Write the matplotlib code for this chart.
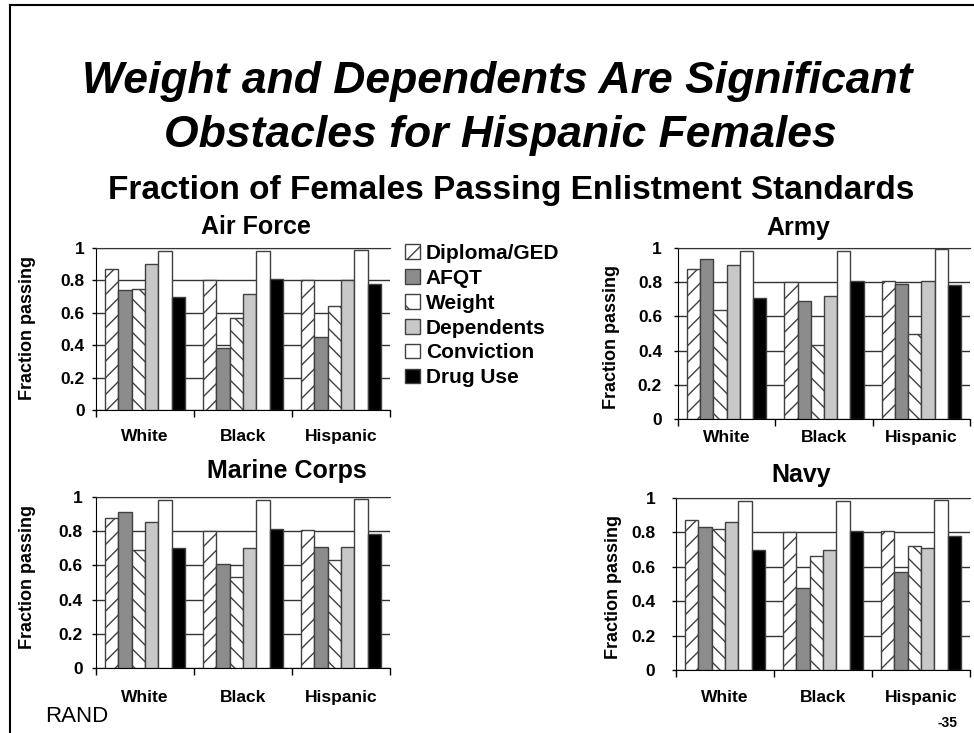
import numpy as np
import matplotlib.pyplot as plt
from matplotlib.patches import Patch
from matplotlib.lines import Line2D

plt.rcParams['font.family'] = ['Liberation Sans', 'DejaVu Sans']
plt.rcParams['hatch.linewidth'] = 1.0

groups = ['White', 'Black', 'Hispanic']
standards = ['Diploma/GED', 'AFQT', 'Weight', 'Dependents', 'Conviction', 'Drug Use']

# values per group, in the order of `standards`
af_white = [0.87, 0.74, 0.745, 0.90, 0.98, 0.70]
af_black = [0.80, 0.38, 0.565, 0.715, 0.98, 0.81]
af_hisp = [0.80, 0.45, 0.645, 0.80, 0.99, 0.78]

army_white = [0.875, 0.935, 0.635, 0.90, 0.985, 0.705]
army_black = [0.80, 0.69, 0.43, 0.72, 0.985, 0.805]
army_hisp = [0.805, 0.79, 0.495, 0.805, 0.995, 0.785]

mc_white = [0.88, 0.91, 0.69, 0.855, 0.985, 0.70]
mc_black = [0.80, 0.61, 0.535, 0.70, 0.985, 0.81]
mc_hisp = [0.805, 0.71, 0.63, 0.71, 0.99, 0.785]

navy_white = [0.875, 0.83, 0.82, 0.86, 0.985, 0.70]
navy_black = [0.80, 0.475, 0.66, 0.70, 0.985, 0.81]
navy_hisp = [0.81, 0.57, 0.72, 0.71, 0.99, 0.78]

fills = ['white', '#8c8c8c', 'white', '#c8c8c8', 'white', 'black']
hatches = ['//', '', '\\\\', '', '', '']
edge = '#404040'

W, H = 974, 733
fig = plt.figure(figsize=(W / 100, H / 100), dpi=100)


def rect(l, t, r, b):
    return [l / W, 1 - b / H, (r - l) / W, (b - t) / H]


# title, data, axes box (px), title pos (px), ylabel pos (px), ytick pad, xlabel pad
panels = [
    ('Air Force', (af_white, af_black, af_hisp), (96, 248, 390, 410), (256, 227), (28, 328), 5, 14),
    ('Army', (army_white, army_black, army_hisp), (678, 248, 970, 419), (798, 228), (612, 337), 8.5, 8),
    ('Marine Corps', (mc_white, mc_black, mc_hisp), (96, 497, 390, 668), (287, 471), (28, 577), 6.5, 16),
    ('Navy', (navy_white, navy_black, navy_hisp), (676, 498, 970, 670), (801, 475), (613, 587), 12, 14.5),
]

bw = 0.136
x = np.arange(len(groups))
for name, data, box, tpos, ypos, ypad, xpad in panels:
    ax = fig.add_axes(rect(*box))
    for k in range(len(standards)):
        vals = [d[k] for d in data]
        ax.bar(x + (k - 2.5) * bw, vals, bw, color=fills[k], edgecolor=edge,
               hatch=hatches[k], linewidth=1, zorder=3)
    ax.set_xlim(-0.5, 2.5)
    ax.set_ylim(0, 1)
    ax.set_yticks([0, 0.2, 0.4, 0.6, 0.8, 1])
    ax.set_yticklabels(['0', '0.2', '0.4', '0.6', '0.8', '1'], fontsize=12.5, fontweight='bold')
    ax.tick_params(axis='y', length=3, width=1, pad=ypad)
    ax.yaxis.grid(True, color='#333333', linewidth=1)
    ax.set_axisbelow(True)
    ax.set_xticks([-0.5, 0.5, 1.5, 2.5])
    ax.set_xticklabels([])
    ax.tick_params(axis='x', which='major', length=5, width=1)
    ax.set_xticks(x, minor=True)
    ax.set_xticklabels(groups, minor=True, fontsize=12.5, fontweight='bold')
    ax.tick_params(axis='x', which='minor', length=0, pad=xpad)
    ax.spines['right'].set_visible(False)
    ax.spines['top'].set_color('#333333')
    fig.text(tpos[0] / W, 1 - tpos[1] / H, name, ha='center', va='center',
             fontsize=18, fontweight='bold')
    fig.text(ypos[0] / W, 1 - ypos[1] / H, 'Fraction passing', ha='center', va='center',
             rotation=90, fontsize=13, fontweight='bold')

handles = [Patch(facecolor=fills[k], edgecolor=edge, hatch=hatches[k][:1], linewidth=1)
           for k in range(len(standards))]
fig.legend(handles, standards, loc='upper left', bbox_to_anchor=(405 / W, 1 - 244 / H),
           frameon=False, borderpad=0, borderaxespad=0, handlelength=0.7, handleheight=0.7,
           handletextpad=0.3, labelspacing=0.28, prop={'size': 15, 'weight': 'bold'})

fig.text(497 / W, 1 - 82 / H, 'Weight and Dependents Are Significant', ha='center', va='center',
         fontsize=32, fontweight='bold', fontstyle='italic')
fig.text(500 / W, 1 - 135 / H, 'Obstacles for Hispanic Females', ha='center', va='center',
         fontsize=32, fontweight='bold', fontstyle='italic')
fig.text(511 / W, 1 - 190 / H, 'Fraction of Females Passing Enlistment Standards', ha='center',
         va='center', fontsize=24, fontweight='bold')

fig.text(45 / W, 1 - 717 / H, 'RAND', ha='left', va='center', fontsize=16)
fig.text(948 / W, 1 - 723 / H, '-35', ha='center', va='center', fontsize=10, fontweight='bold')

# slide frame
fig.add_artist(Line2D([10 / W, 1], [1 - 5 / H, 1 - 5 / H], color='black', linewidth=1.5))
fig.add_artist(Line2D([10 / W, 10 / W], [0, 1 - 5 / H], color='black', linewidth=1.5))

fig.savefig('out.png', dpi=100)
